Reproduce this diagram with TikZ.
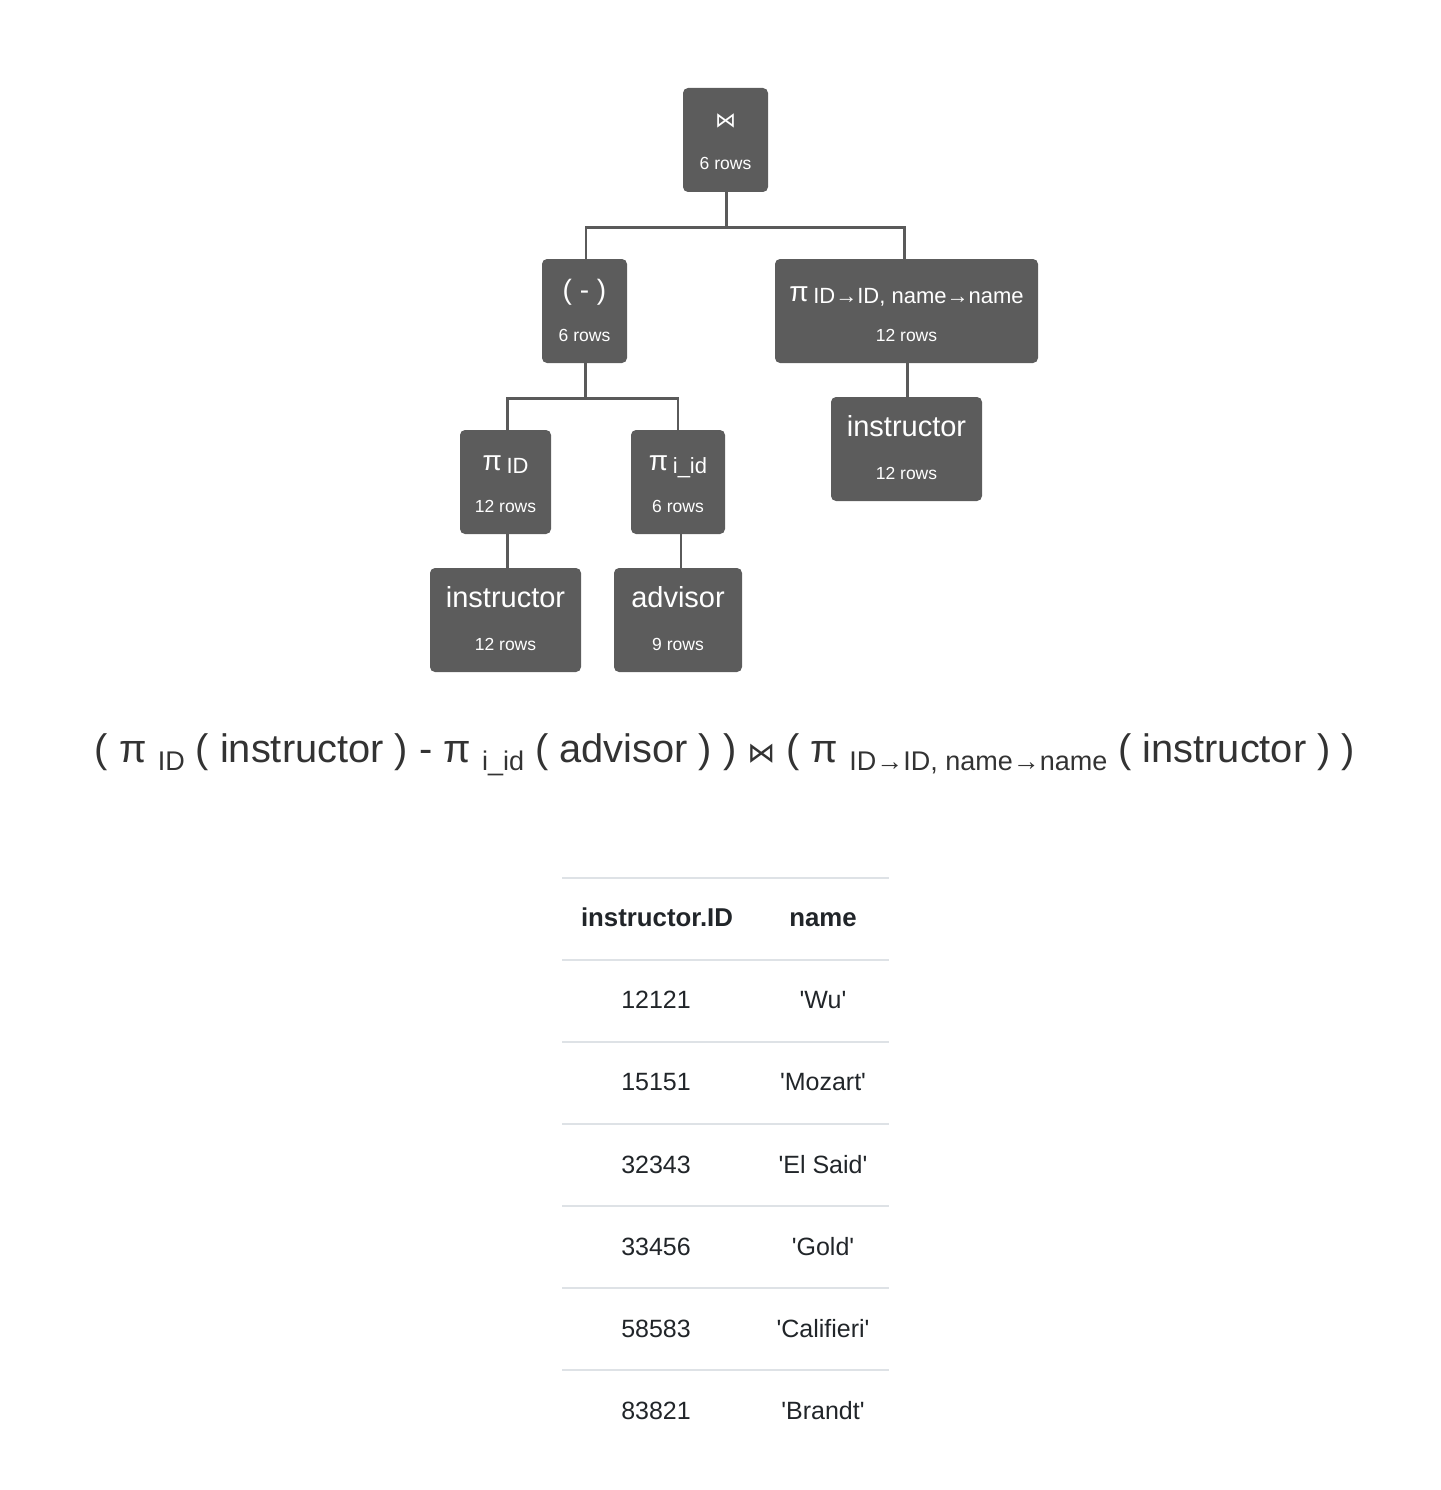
\documentclass[tikz,border=0pt]{standalone}
\usepackage{fontspec}
\setmainfont{Liberation Sans}
\newfontfamily\symfont{DejaVu Sans}
\definecolor{boxgray}{HTML}{5C5C5C}
\definecolor{wiregray}{HTML}{5A5A5A}
\definecolor{rulegray}{HTML}{DEE2E6}
\definecolor{inkdark}{HTML}{212529}
\definecolor{formulaink}{HTML}{333333}
\newcommand{\fsz}[1]{\fontsize{#1}{#1}\selectfont}
\newcommand{\qt}[1]{\textquotesingle#1\textquotesingle}
\begin{document}
\begin{tikzpicture}[x=1pt,y=-1pt,
  opbox/.style={fill=boxgray,rounded corners=5pt,inner sep=0pt,minimum height=104pt},
  boxtext/.style={text=white,inner sep=0pt,anchor=base},
  wire/.style={draw=wiregray,line width=2.6pt},
  tabrule/.style={draw=rulegray,line width=2.6pt},
  cell/.style={text=inkdark,inner sep=0pt,anchor=base,font=\fsz{25}},
  headcell/.style={cell,font=\fsz{25.8}\bfseries}]
\useasboundingbox (0,0) rectangle (1440,1490);

% operator tree boxes
\node[opbox,minimum width=85pt]  (join)  at (725.5,140) {};
\node[opbox,minimum width=85pt]  (diff)  at (584.5,311) {};
\node[opbox,minimum width=263pt] (ren)   at (906.5,311) {};
\node[opbox,minimum width=91pt]  (pid)   at (505.5,482) {};
\node[opbox,minimum width=94pt]  (piid)  at (678,482) {};
\node[opbox,minimum width=151pt] (instA) at (505.5,620) {};
\node[opbox,minimum width=128pt] (adv)   at (678,620) {};
\node[opbox,minimum width=151pt] (instB) at (906.5,449) {};

% box labels
\node[boxtext,font=\symfont\fsz{21}] at (725.5,128) {⋈};
\node[boxtext,font=\fsz{17.5}] at (725.5,170) {6 rows};
\node[boxtext,font=\fsz{28}] at (584.5,299) {( - )};
\node[boxtext,font=\fsz{17.5}] at (584.5,341) {6 rows};
\node[boxtext] at (906.5,301) {\fsz{28}π\,\raisebox{-2pt}{\fsz{22}ID→ID, name→name}};
\node[boxtext,font=\fsz{17.5}] at (906.5,341) {12 rows};
\node[boxtext] at (505.5,470) {\fsz{28}π\,\raisebox{-3pt}{\fsz{22}ID}};
\node[boxtext,font=\fsz{17.5}] at (505.5,512) {12 rows};
\node[boxtext] at (678,470) {\fsz{28}π\,\raisebox{-3pt}{\fsz{22}i\_id}};
\node[boxtext,font=\fsz{17.5}] at (678,512) {6 rows};
\node[boxtext,font=\fsz{29}] at (505.5,607) {instructor};
\node[boxtext,font=\fsz{17.5}] at (505.5,650) {12 rows};
\node[boxtext,font=\fsz{29}] at (678,607) {advisor};
\node[boxtext,font=\fsz{17.5}] at (678,650) {9 rows};
\node[boxtext,font=\fsz{29}] at (906.5,436) {instructor};
\node[boxtext,font=\fsz{17.5}] at (906.5,479) {12 rows};

% connectors
\draw[wire] ([xshift=1pt]join.south) -- ++(0,35) -| ([xshift=1.5pt]diff.north);
\draw[wire] ([xshift=1pt]join.south) ++(0,35) -| ([xshift=-2pt]ren.north);
\draw[wire] ([xshift=1pt]diff.south) -- ++(0,35) -| ([xshift=2pt]pid.north);
\draw[wire] ([xshift=1pt]diff.south) ++(0,35) -| (piid.north);
\draw[wire] ([xshift=2pt]pid.south) -- ([xshift=2pt]pid.south |- instA.north);
\draw[wire] ([xshift=3pt]piid.south) -- ([xshift=3pt]piid.south |- adv.north);
\draw[wire] ([xshift=1pt]ren.south) -- ([xshift=1pt]ren.south |- instB.north);

% expression line
\node[text=formulaink,inner sep=0pt,anchor=base] (expr) at (725,762)
  {\fsz{39.8}( π \raisebox{-8pt}{\fsz{27}ID} ( instructor ) - π \raisebox{-8pt}{\fsz{27}i\_id} ( advisor ) ) {\symfont\fsz{28}⋈} ( π \raisebox{-8pt}{\fsz{27}ID→ID, name→name} ( instructor ) )};

% result table
\foreach \yy in {878,960,1042,1124,1206,1288,1370}
  \draw[tabrule] (562,\yy) -- (889,\yy);
\node[headcell] (hid) at (657,926) {instructor.ID};
\node[headcell] (hname) at (823,926) {name};
\foreach \yy/\id/\nm in {1008/12121/Wu,1090/15151/Mozart,1173/32343/El Said,1255/33456/Gold,1337/58583/Califieri,1419/83821/Brandt}{
  \node[cell] at (656,\yy) {\id};
  \node[cell] at (823,\yy) {\qt{\nm}};
}
\end{tikzpicture}
\end{document}
